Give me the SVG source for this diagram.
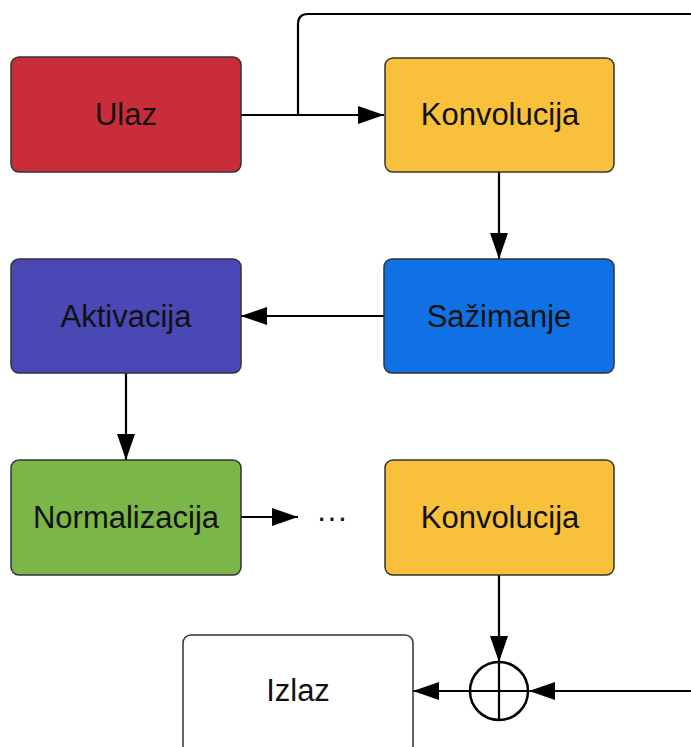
<svg xmlns="http://www.w3.org/2000/svg" width="691" height="747" viewBox="0 0 691 747">
<style>
.box{stroke:#333333;stroke-width:1.5}
.lbl{font-family:"Liberation Sans",Arial,sans-serif;font-size:31px;fill:#111111;text-anchor:middle}
.con{fill:none;stroke:#000000;stroke-width:2.2}
</style>
<defs>
<marker id="ah" markerUnits="userSpaceOnUse" markerWidth="26" markerHeight="18" refX="26" refY="9" orient="auto">
<path d="M0,0 L26,9 L0,18 z" fill="#000000"/>
</marker>
</defs>
<rect width="691" height="747" fill="#ffffff"/>
<g id="connectors">
<path class="con" d="M241,115 H384" marker-end="url(#ah)"/>
<path class="con" d="M298,115 V24 Q298,14 308,14 H691"/>
<path class="con" d="M499,172 V259" marker-end="url(#ah)"/>
<path class="con" d="M384,316 H241" marker-end="url(#ah)"/>
<path class="con" d="M126,373 V460" marker-end="url(#ah)"/>
<path class="con" d="M241,517 H298" marker-end="url(#ah)"/>
<path class="con" d="M499,575 V662" marker-end="url(#ah)"/>
<path class="con" d="M691,691 H529" marker-end="url(#ah)"/>
<path class="con" d="M470,691 H413" marker-end="url(#ah)"/>
</g>
<g id="ulaz"><rect class="box" x="11" y="57" width="230" height="115" rx="8" fill="#C92D39"/><text class="lbl" x="126" y="125">Ulaz</text></g>
<g id="konvolucija1"><rect class="box" x="385" y="58" width="229" height="114" rx="8" fill="#F9C13B"/><text class="lbl" x="500" y="125">Konvolucija</text></g>
<g id="sazimanje"><rect class="box" x="384" y="259" width="230" height="114" rx="8" fill="#1071E5"/><text class="lbl" x="499" y="327">Sažimanje</text></g>
<g id="aktivacija"><rect class="box" x="11" y="259" width="230" height="114" rx="8" fill="#4A48B5"/><text class="lbl" x="126" y="327">Aktivacija</text></g>
<g id="normalizacija"><rect class="box" x="11" y="460" width="230" height="115" rx="8" fill="#7AB648"/><text class="lbl" x="126" y="528">Normalizacija</text></g>
<g id="ellipsis"><text class="lbl" x="332" y="528" fill="#333333">···</text></g>
<g id="konvolucija2"><rect class="box" x="385" y="460" width="229" height="115" rx="8" fill="#F9C13B"/><text class="lbl" x="500" y="528">Konvolucija</text></g>
<g id="izlaz"><rect class="box" x="183" y="635" width="230" height="125" rx="8" fill="#ffffff"/><text class="lbl" x="298" y="701">Izlaz</text></g>
<g id="zbroj"><circle cx="499" cy="691" r="29" fill="#ffffff" stroke="#000000" stroke-width="2.5"/><path d="M470,691 H528 M499,662 V720" stroke="#000000" stroke-width="2.2" fill="none"/></g>
</svg>
